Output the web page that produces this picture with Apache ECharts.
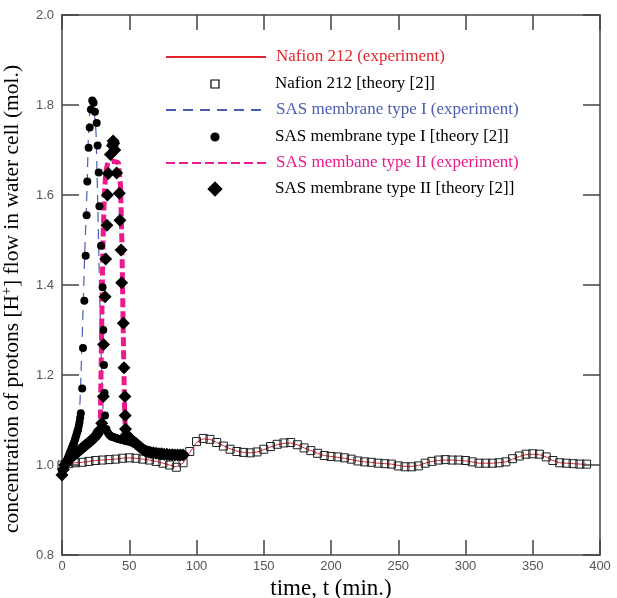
<!DOCTYPE html>
<html>
<head>
<meta charset="utf-8">
<script src="https://cdn.jsdelivr.net/npm/echarts@6/dist/echarts.min.js"></script>
<style>
html,body{margin:0;padding:0;background:#fff;}
#chart{width:617px;height:598px;}
</style>
</head>
<body>
<div id="chart"></div>
<script>
// ---- Data ----
const seriesNames = [
  'Nafion 212 (experiment)',
  'Nafion 212 [theory [2]]',
  'SAS membrane type I (experiment)',
  'SAS membrane type I [theory [2]]',
  'SAS membane type II (experiment)',
  'SAS membrane type II [theory [2]]'
];
const xTicks = [0, 50, 100, 150, 200, 250, 300, 350, 400];
const yTicks = [0.8, 1.0, 1.2, 1.4, 1.6, 1.8, 2.0];

const nafionTime = [0,5,10,15,20,25,30,35,40,45,50,55,60,65,70,75,80,85,90,95,100,105,110,115,120,125,130,135,140,145,150,155,160,165,170,175,180,185,190,195,200,205,210,215,220,225,230,235,240,245,250,255,260,265,270,275,280,285,290,295,300,305,310,315,320,325,330,335,340,345,350,355,360,365,370,375,380,385,390];
const nafionExp = [1.0,1.003,1.005,1.006,1.008,1.01,1.011,1.012,1.013,1.015,1.016,1.015,1.013,1.011,1.008,1.004,1.0,0.996,1.004,1.028,1.05,1.058,1.057,1.05,1.043,1.036,1.031,1.028,1.027,1.029,1.034,1.04,1.045,1.048,1.049,1.045,1.038,1.032,1.026,1.021,1.019,1.017,1.015,1.012,1.009,1.007,1.006,1.004,1.003,1.002,0.999,0.997,0.997,0.999,1.004,1.008,1.01,1.011,1.011,1.01,1.009,1.007,1.004,1.004,1.004,1.005,1.007,1.013,1.019,1.023,1.024,1.023,1.018,1.01,1.005,1.004,1.003,1.002,1.002];
const nafionTheory = [1.0,1.003,1.005,1.006,1.008,1.01,1.011,1.012,1.013,1.015,1.016,1.015,1.013,1.011,1.008,1.004,1.0,0.995,1.005,1.03,1.052,1.059,1.057,1.05,1.042,1.035,1.03,1.028,1.027,1.029,1.035,1.041,1.046,1.049,1.05,1.045,1.038,1.032,1.026,1.021,1.019,1.018,1.016,1.013,1.009,1.007,1.006,1.004,1.003,1.002,0.998,0.996,0.996,0.998,1.004,1.008,1.011,1.012,1.011,1.011,1.01,1.007,1.004,1.004,1.004,1.005,1.007,1.014,1.02,1.024,1.025,1.024,1.018,1.01,1.005,1.004,1.003,1.002,1.002];

const typeIExpTime = [0,4,8,10,12,13,14,15.4,17,18.7,19.5,20.5,21.5,22.5,23.5,24.5,25.3,26.3,27.3,28.8,29.8,31,32.5,35,40,50,60,70,80,90];
const typeIExp = [0.99,1.015,1.04,1.055,1.08,1.11,1.19,1.32,1.48,1.62,1.72,1.78,1.80,1.80,1.79,1.77,1.74,1.62,1.48,1.28,1.17,1.1,1.07,1.062,1.058,1.052,1.04,1.028,1.024,1.022];

const typeITheoryTime = [0,0.5,1,1.5,2,2.5,3,3.5,4,4.5,5,5.5,6,6.5,7,7.5,8,8.5,9,9.5,10,10.5,11,11.5,12,12.5,13,13.5,14,15,15.6,16.6,17.6,18.3,18.8,19.8,20.6,21.5,22.5,23.5,24.5,25.8,26.5,27.3,27.8,29,30.2,30.7,31.2,31.6,32,33,34,35,36,37,38,39,40,41,42,43,44,45,46,47,48,49,50,51,52,53,54,55,56,57,58,59,60,61,62,63,64,66,68,70,73,76,79,82,85,88,91];
const typeITheory = [0.985,0.988,0.99,0.995,1.0,1.003,1.005,1.008,1.012,1.016,1.02,1.024,1.028,1.031,1.035,1.039,1.043,1.046,1.05,1.055,1.06,1.065,1.07,1.075,1.08,1.087,1.095,1.105,1.115,1.17,1.26,1.365,1.465,1.555,1.63,1.705,1.75,1.79,1.81,1.805,1.785,1.76,1.71,1.65,1.575,1.487,1.395,1.3,1.222,1.16,1.11,1.08,1.072,1.068,1.065,1.063,1.062,1.061,1.06,1.059,1.058,1.057,1.056,1.056,1.055,1.054,1.053,1.053,1.052,1.051,1.05,1.049,1.047,1.046,1.044,1.042,1.04,1.038,1.036,1.034,1.032,1.031,1.03,1.028,1.027,1.026,1.025,1.024,1.024,1.023,1.023,1.022,1.022];

const typeIIExpTime = [0,5,10,15,20,25,28,28.5,29.5,30.5,31.5,32.5,34,38,42,43.5,44.5,45.5,46.5,47,48,52,60,70,80,90];
const typeIIExp = [0.995,1.01,1.025,1.038,1.05,1.065,1.075,1.1,1.3,1.5,1.6,1.65,1.672,1.675,1.672,1.62,1.5,1.3,1.13,1.08,1.065,1.05,1.035,1.027,1.024,1.022];

const typeIITheoryTime = [0,1,2,3,4,5,6,7,8,9,10,11,12,13,14,15,16,17,18,19,20,21,22,23,24,25,26,27,28,29.5,30.7,30.9,32,32.5,33.4,33.8,34.4,36,37.5,38,38.5,39.2,40.6,42.6,43.1,43.9,44.4,45.6,46.1,46.8,47,47.2,48,49,50,51,52,53,54,55,56,57,58,59,60,61.5,63,64.5,66,68,70,72,74,76,78,80,82,84,86,88,90];
const typeIITheory = [0.978,0.99,1.0,1.004,1.008,1.012,1.015,1.018,1.02,1.023,1.025,1.028,1.03,1.033,1.035,1.038,1.04,1.043,1.045,1.048,1.05,1.053,1.055,1.058,1.06,1.064,1.068,1.073,1.078,1.093,1.152,1.268,1.374,1.458,1.533,1.6,1.648,1.69,1.71,1.72,1.715,1.70,1.649,1.604,1.544,1.478,1.405,1.315,1.216,1.152,1.11,1.08,1.068,1.064,1.06,1.058,1.055,1.052,1.05,1.048,1.045,1.042,1.04,1.038,1.035,1.032,1.03,1.029,1.028,1.027,1.026,1.025,1.025,1.024,1.024,1.023,1.023,1.022,1.022,1.022,1.022];

// ---- Build ----
const zip = (t, v) => t.map((x, i) => [x, v[i]]);
const SERIF = 'Liberation Serif, Times New Roman, serif';
const SANS = 'Liberation Sans, Arial, sans-serif';
const RED = '#e3262b', BLUE = '#4a5db3', PINK = '#ec1a8c';

const legendRows = [
  {name: seriesNames[0], color: RED, h: 12, exp: true},
  {name: seriesNames[1], color: '#000', h: 10, exp: false},
  {name: seriesNames[2], color: BLUE, h: 12, exp: true},
  {name: seriesNames[3], color: '#000', h: 10, exp: false},
  {name: seriesNames[4], color: PINK, h: 12, exp: true},
  {name: seriesNames[5], color: '#000', h: 17, exp: false}
];
const rowCenters = [57, 84, 110, 137, 163, 189];

const legends = legendRows.map((r, i) => {
  const boxH = Math.max(r.h, 20);
  const l = {
    data: [{name: r.name, textStyle: {color: r.color}}],
    left: 165,
    top: rowCenters[i] - boxH / 2,
    padding: 0,
    itemGap: 0,
    itemWidth: 100,
    itemHeight: r.h,
    selectedMode: false,
    textStyle: {fontFamily: SERIF, fontSize: 17, lineHeight: 20, color: r.color, padding: [0, 0, 0, 5]}
  };
  if (r.exp) {
    l.itemStyle = {color: 'rgba(0,0,0,0)', borderWidth: 0, opacity: 0};
  } else {
    l.lineStyle = {width: 0, opacity: 0};
    l.itemStyle = {borderWidth: 1.2, borderColor: '#000'};
  }
  return l;
});

const option = {
  animation: false,
  backgroundColor: '#fff',
  legend: legends,
  grid: {left: 62, right: 17, top: 15, bottom: 43, containLabel: false, outerBoundsMode: 'none'},
  xAxis: [{
    type: 'value', min: 0, max: 400, interval: 50,
    name: 'time, t (min.)', nameLocation: 'middle', nameGap: 14,
    nameTextStyle: {fontFamily: SERIF, fontSize: 23, color: '#000'},
    axisLine: {show: true, onZero: false, lineStyle: {color: '#444', width: 1.5}},
    axisTick: {show: true, inside: true, length: 15, lineStyle: {color: '#444', width: 1.5}},
    axisLabel: {show: true, margin: 5, fontFamily: SANS, fontSize: 13, color: '#555',
      formatter: v => xTicks.indexOf(v) >= 0 ? String(v) : ''},
    splitLine: {show: false}
  }, {
    type: 'value', position: 'top', min: 0, max: 400, interval: 50,
    axisLine: {show: true, onZero: false, lineStyle: {color: '#444', width: 1.5}},
    axisTick: {show: true, inside: true, length: 15, lineStyle: {color: '#444', width: 1.5}},
    axisLabel: {show: false}, splitLine: {show: false}
  }],
  yAxis: [{
    type: 'value', min: 0.8, max: 2.0, interval: 0.2,
    name: 'concentration of protons [H{sup|+}] flow in water cell (mol.)',
    nameLocation: 'middle', nameGap: 27, nameRotate: 90,
    nameTextStyle: {fontFamily: SERIF, fontSize: 21.5, color: '#000', lineHeight: 25,
      padding: [0, 28, 0, 0],
      rich: {sup: {fontFamily: SERIF, fontSize: 14, verticalAlign: 'top', lineHeight: 14}}},
    axisLine: {show: true, onZero: false, lineStyle: {color: '#444', width: 1.5}},
    axisTick: {show: true, inside: true, length: 17, lineStyle: {color: '#444', width: 1.5}},
    axisLabel: {show: true, margin: 8, fontFamily: SANS, fontSize: 13, color: '#555',
      formatter: v => {
        const r = Math.round(v * 10) / 10;
        return yTicks.some(t => Math.abs(t - r) < 1e-6) ? r.toFixed(1) : '';
      }},
    splitLine: {show: false}
  }, {
    type: 'value', position: 'right', min: 0.8, max: 2.0, interval: 0.2,
    axisLine: {show: true, onZero: false, lineStyle: {color: '#444', width: 1.5}},
    axisTick: {show: true, inside: true, length: 17, lineStyle: {color: '#444', width: 1.5}},
    axisLabel: {show: false}, splitLine: {show: false}
  }],
  series: [
    {
      name: seriesNames[0], type: 'line', data: zip(nafionTime, nafionExp),
      symbol: 'none', lineStyle: {color: RED, width: 1}, itemStyle: {color: RED}, z: 2
    },
    {
      name: seriesNames[2], type: 'line', data: zip(typeIExpTime, typeIExp),
      symbol: 'none', lineStyle: {color: BLUE, width: 1.2, type: [10, 7]}, itemStyle: {color: BLUE}, z: 2
    },
    {
      name: seriesNames[4], type: 'line', data: zip(typeIIExpTime, typeIIExp),
      symbol: 'none', lineStyle: {color: PINK, width: 5, type: [9, 4]}, itemStyle: {color: PINK}, z: 3
    },
    {
      name: seriesNames[1], type: 'line', data: zip(nafionTime, nafionTheory),
      symbol: 'rect', symbolSize: 8, showAllSymbol: true,
      lineStyle: {width: 0, opacity: 0},
      itemStyle: {color: 'rgba(255,255,255,0)', borderColor: '#222', borderWidth: 1}, z: 4
    },
    {
      name: seriesNames[3], type: 'line', data: zip(typeITheoryTime, typeITheory),
      symbol: 'circle', symbolSize: 8, showAllSymbol: true,
      lineStyle: {width: 0, opacity: 0},
      itemStyle: {color: '#000'}, z: 5
    },
    {
      name: seriesNames[5], type: 'line', data: zip(typeIITheoryTime, typeIITheory),
      symbol: 'diamond', symbolSize: 13, showAllSymbol: true,
      lineStyle: {width: 0, opacity: 0},
      itemStyle: {color: '#000'}, z: 5
    }
  ]
};

const chart = echarts.init(document.getElementById('chart'), null, {renderer: 'canvas'});
chart.setOption(option);
</script>
</body>
</html>
